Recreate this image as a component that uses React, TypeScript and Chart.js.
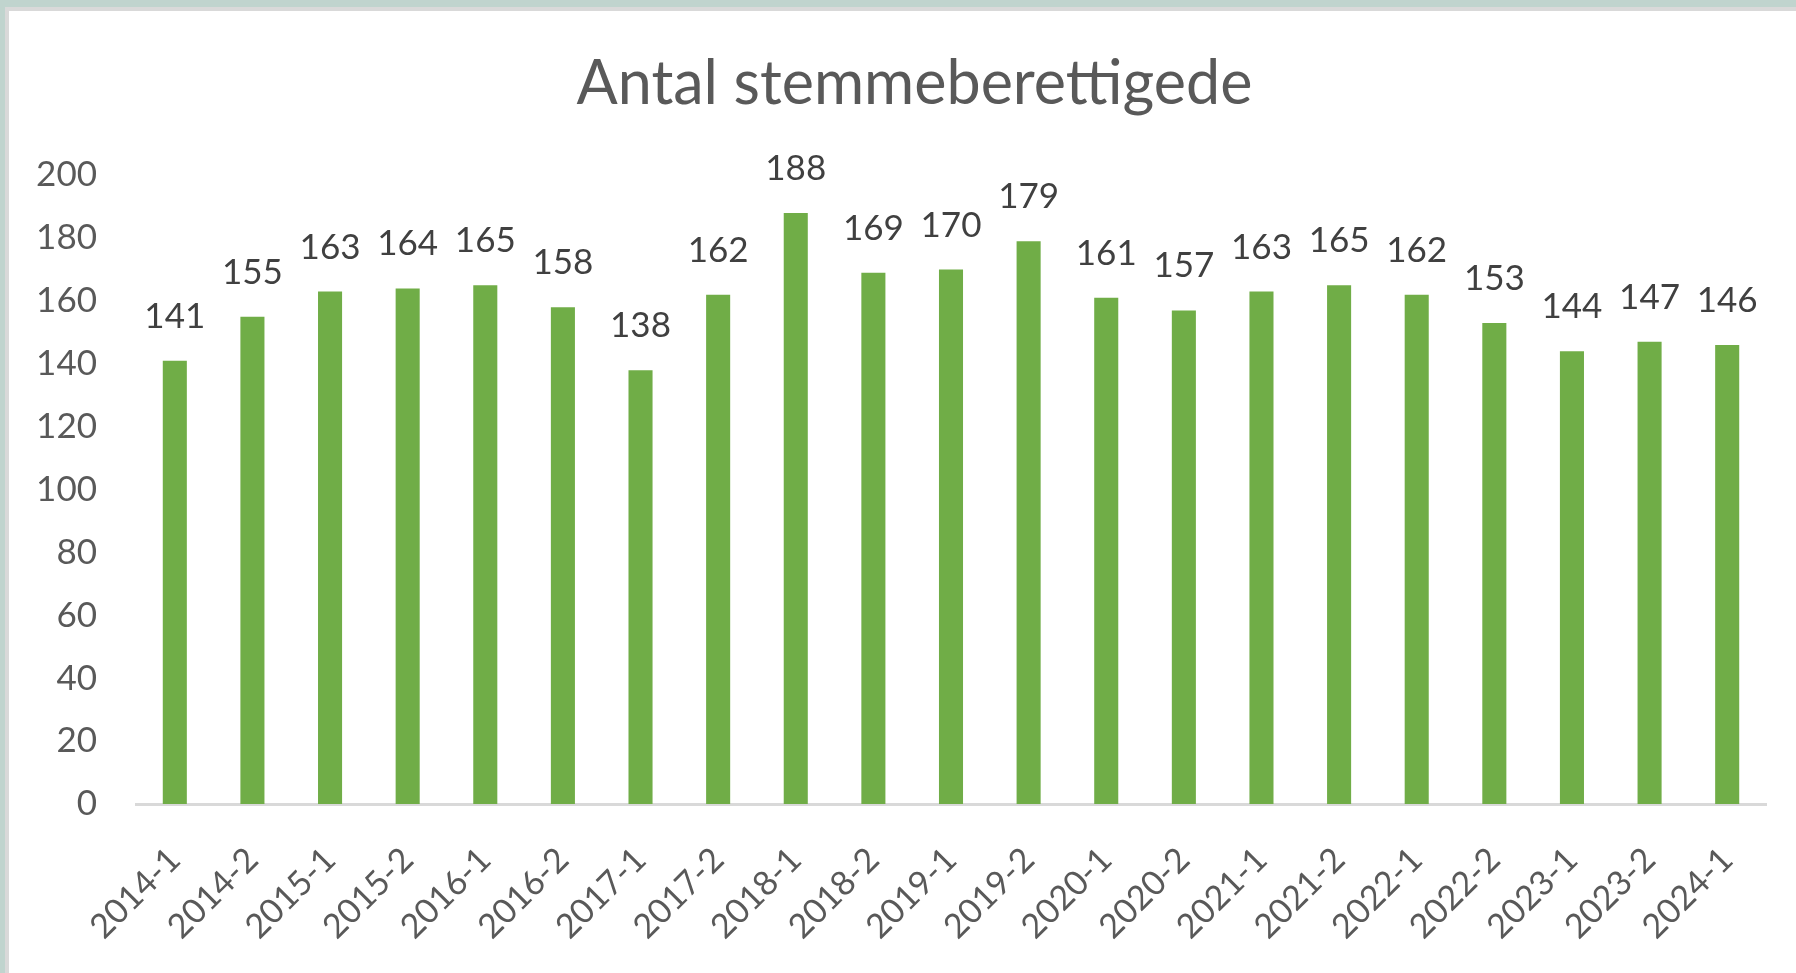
import React, { useEffect, useRef } from "react";
import { Chart, registerables } from "chart.js";

Chart.register(...registerables);

const titleText = "Antal stemmeberettigede";
const categories = [
  "2014-1", "2014-2", "2015-1", "2015-2", "2016-1", "2016-2", "2017-1",
  "2017-2", "2018-1", "2018-2", "2019-1", "2019-2", "2020-1", "2020-2",
  "2021-1", "2021-2", "2022-1", "2022-2", "2023-1", "2023-2", "2024-1",
];
const values = [
  141, 155, 163, 164, 165, 158, 138, 162, 188, 169, 170, 179, 161, 157,
  163, 165, 162, 153, 144, 147, 146,
];
const yMin = 0;
const yMax = 200;
const yStep = 20;

const FONT = "Lato, 'Open Sans', sans-serif";
const TICK_SIZE = 35;

const dataLabelPlugin = {
  id: "dataLabels",
  afterDatasetsDraw(chart: any) {
    const ctx = chart.ctx;
    const meta = chart.getDatasetMeta(0);
    ctx.save();
    ctx.font = `${TICK_SIZE}px ${FONT}`;
    ctx.fillStyle = "#404040";
    ctx.textAlign = "center";
    ctx.textBaseline = "alphabetic";
    meta.data.forEach((bar: any, i: number) => {
      ctx.fillText(String(values[i]), bar.x, bar.y - 33);
    });
    ctx.restore();
  },
};

export default function App() {
  const canvasRef = useRef<HTMLCanvasElement | null>(null);

  useEffect(() => {
    if (!canvasRef.current) return;
    const mctx = document.createElement("canvas").getContext("2d")!;
    mctx.font = `${TICK_SIZE}px ${FONT}`;
    const widest = mctx.measureText(String(yMax)).width;
    const chartLeft = 127;
    const labelRight = 88;

    const chart = new Chart(canvasRef.current, {
      type: "bar",
      data: {
        labels: categories,
        datasets: [
          {
            label: titleText,
            data: values,
            backgroundColor: "#70ad47",
            borderWidth: 0,
            barPercentage: 0.31,
            categoryPercentage: 1,
          },
        ],
      },
      options: {
        responsive: false,
        animation: false,
        layout: { padding: { left: 54, right: 30, top: 0, bottom: 0 } },
        plugins: {
          legend: { display: false },
          tooltip: { enabled: false },
          title: {
            display: true,
            text: titleText,
            color: "#595959",
            font: { family: FONT, size: 61, weight: "normal" },
            padding: { top: 37, bottom: 54 },
          },
        },
        scales: {
          x: {
            grid: { display: false, drawTicks: false },
            border: { display: true, color: "#d9d9d9", width: 3 },
            ticks: {
              autoSkip: false,
              minRotation: 45,
              maxRotation: 45,
              padding: 50,
              color: "#595959",
              font: { family: FONT, size: 34, lineHeight: 0 },
            },
            afterFit: (scale: any) => {
              scale.height = 169;
            },
          },
          y: {
            min: yMin,
            max: yMax,
            grid: { display: false, drawTicks: false },
            border: { display: false },
            ticks: {
              stepSize: yStep,
              mirror: true,
              crossAlign: "far",
              padding: labelRight - chartLeft - widest,
              color: "#595959",
              font: { family: FONT, size: TICK_SIZE },
            },
            afterFit: (scale: any) => {
              scale.width = chartLeft - 54;
            },
          },
        },
      },
      plugins: [dataLabelPlugin],
    });
    return () => chart.destroy();
  }, []);

  return (
    <div
      style={{
        position: "fixed",
        left: 0,
        top: 0,
        width: 1796,
        height: 973,
        background: "#c0d4ce",
        overflow: "hidden",
      }}
    >
      <div
        style={{
          position: "absolute",
          left: 5,
          top: 7,
          right: 0,
          bottom: 0,
          background: "#d9d9d9",
        }}
      >
        <div
          style={{
            position: "absolute",
            left: 4,
            top: 4,
            right: 0,
            bottom: 0,
            background: "#ffffff",
          }}
        >
          <canvas
            ref={canvasRef}
            width={1787}
            height={962}
            style={{ display: "block", width: 1787, height: 962 }}
          />
        </div>
      </div>
    </div>
  );
}
